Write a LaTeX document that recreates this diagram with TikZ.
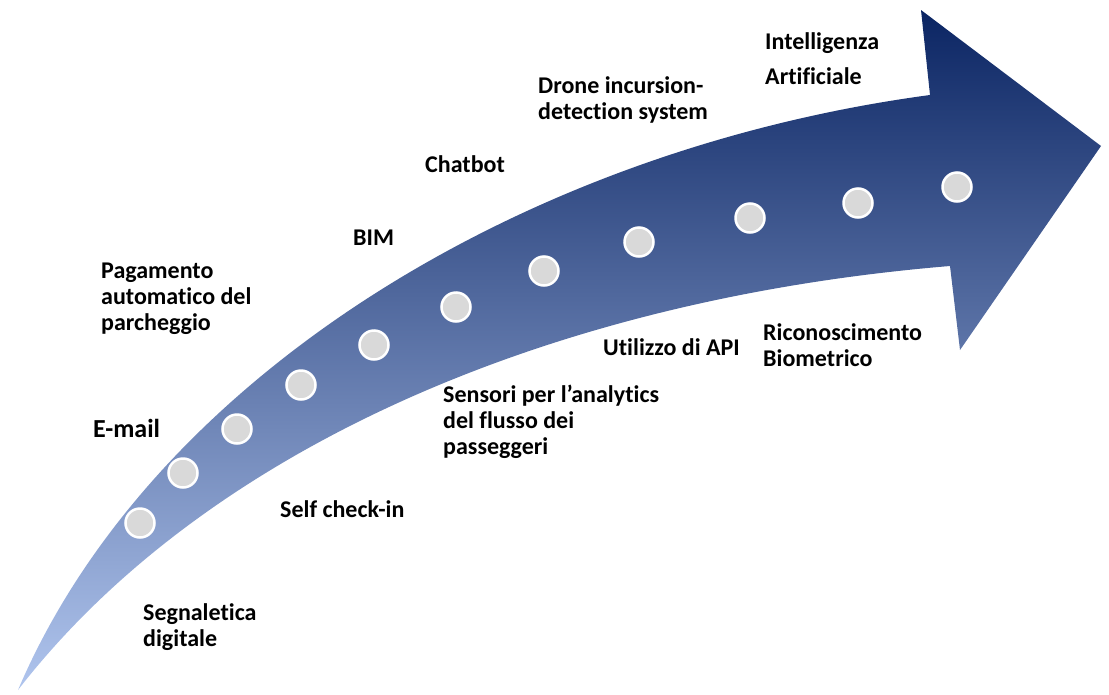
\documentclass[tikz,border=0pt]{standalone}
\usepackage{fontspec}
\setmainfont{Carlito}[Ligatures=NoCommon]
\definecolor{navytop}{RGB}{11,37,99}
\definecolor{navymid}{RGB}{84,110,166}
\definecolor{paletail}{RGB}{176,197,238}
\definecolor{dotgray}{RGB}{217,217,217}
\begin{document}
\begin{tikzpicture}[x=1pt,y=-1pt,
  lbl/.style={anchor=base west,inner sep=0pt,font=\fontsize{24}{26}\selectfont\bfseries},
  milestone/.style={circle,fill=dotgray,draw=white,line width=2.5pt,minimum size=29pt,inner sep=0pt}]
\useasboundingbox (0,0) rectangle (1109,694);
% curved arrow body with vertical gradient
\shade[top color=navytop,middle color=navymid,bottom color=paletail]
  (18,690) .. controls (150,380) and (520,150) .. (930,95)
  -- (921,10) -- (1101,146) -- (960,350) -- (950,266)
  .. controls (540,300) and (200,455) .. (18,690) -- cycle;
% milestones along the arrow
\foreach \n/\px/\py in {1/140/523,2/183/473,3/237/429,4/301/385,5/374/345,6/456/307,
                        7/544/271,8/639/242,9/750/218,10/858/203,11/957/187}
  \node[milestone] (m\n) at (\px,\py) {};
% labels above the arrow (multi-line labels keep the first baseline as anchor)
\node[lbl] (pag) at (101,278) {\vtop{\hbox{Pagamento}\hbox{automatico del}\hbox{parcheggio}}};
\node[lbl,font=\fontsize{26}{28}\selectfont\bfseries] (email) at (93,437) {E-mail};
\node[lbl] (bim) at (353,245) {BIM};
\node[lbl] (chat) at (425,172) {Chatbot};
\node[lbl] (drone) at (538,93) {\vtop{\hbox{Drone incursion-}\hbox{detection system}}};
\node[lbl] (ai) at (765,49) {\vtop{\hbox{Intelligenza}\vskip9pt\hbox{Artificiale}}};
% labels below the arrow
\node[lbl] (segn) at (143,620) {\vtop{\hbox{Segnaletica}\hbox{digitale}}};
\node[lbl] (self) at (280,517) {Self check-in};
\node[lbl] (sens) at (443,402) {\vtop{\hbox{Sensori per l’analytics}\hbox{del flusso dei}\hbox{passeggeri}}};
\node[lbl] (api) at (603,355) {Utilizzo di API};
\node[lbl] (bio) at (763,340) {\vtop{\hbox{Riconoscimento}\hbox{Biometrico}}};
\end{tikzpicture}
\end{document}
